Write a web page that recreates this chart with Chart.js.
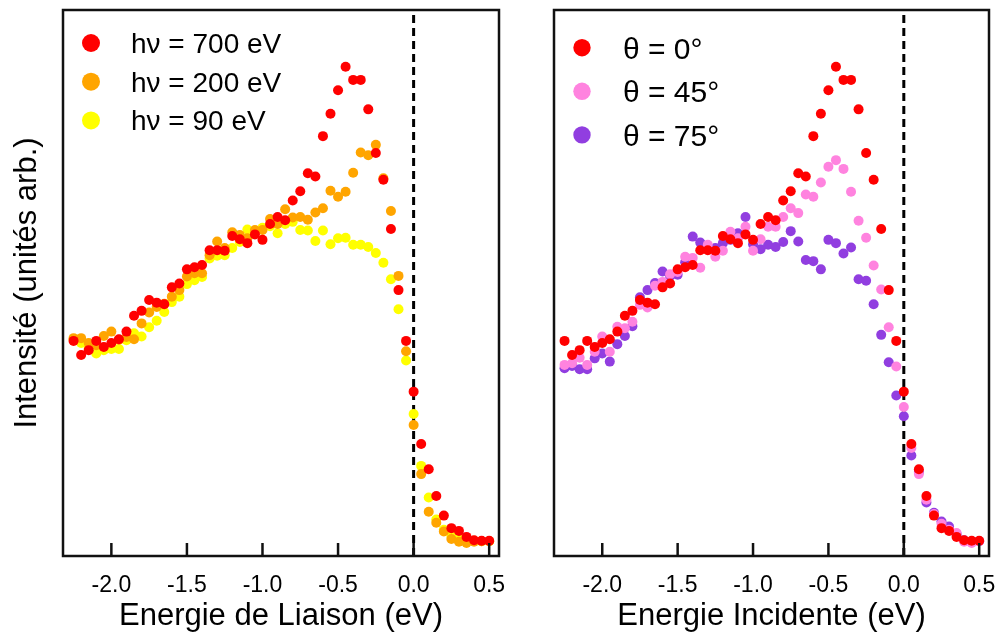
<!DOCTYPE html>
<html>
<head>
<meta charset="utf-8">
<script src="https://cdn.jsdelivr.net/npm/chart.js@4"></script>
<style>
  body { margin: 0; width: 997px; height: 639px; background: #fff; position: relative; overflow: hidden; }
  canvas { position: absolute; top: 0; }
  #gauche { left: 0; }
  #droite { left: 520px; }
</style>
</head>
<body>
<canvas id="gauche" width="520" height="639"></canvas>
<canvas id="droite" width="477" height="639"></canvas>
<script>
// energie (eV), same grid for every series
const energies = [
  -2.25, -2.20, -2.15, -2.10, -2.05, -2.00, -1.95, -1.90, -1.85, -1.80,
  -1.75, -1.70, -1.65, -1.60, -1.55, -1.50, -1.45, -1.40, -1.35, -1.30,
  -1.25, -1.20, -1.15, -1.10, -1.05, -1.00, -0.95, -0.90, -0.85, -0.80,
  -0.75, -0.70, -0.65, -0.60, -0.55, -0.50, -0.45, -0.40, -0.35, -0.30,
  -0.25, -0.20, -0.15, -0.10, -0.05, 0.00, 0.05, 0.10, 0.15, 0.20,
  0.25, 0.30, 0.35, 0.40, 0.45, 0.50
];

// intensities (arb. units, 0 = bottom of frame, 100 = top)
const hv700 = [
  39.4, 36.8, 37.7, 39.4, 38.3, 39.0, 39.7, 41.1, 44.0, 44.9,
  46.9, 46.4, 46.1, 49.2, 49.9, 52.5, 52.9, 53.3, 56.0, 56.0,
  55.9, 58.6, 58.0, 57.3, 58.9, 57.9, 60.8, 62.1, 61.5, 65.1,
  66.8, 70.1, 69.5, 76.9, 81.0, 85.3, 89.6, 87.2, 87.2, 81.8,
  73.8, 68.9, 59.9, 48.7, 39.4, 30.1, 20.5, 15.9, 11.0, 7.4,
  5.1, 4.6, 3.5, 2.9, 2.8, 2.8
];
const hv200 = [
  39.9, 39.9, 39.0, 38.6, 40.3, 41.1, 39.6, 40.1, 39.7, 42.6,
  44.6, 45.6, 46.2, 47.5, 48.7, 51.2, 51.8, 51.8, 55.1, 57.6,
  56.4, 59.3, 58.8, 58.2, 59.7, 59.7, 61.7, 60.8, 63.5, 62.0,
  62.1, 61.6, 62.9, 63.7, 66.9, 65.8, 66.7, 70.2, 73.9, 73.4,
  75.3, 69.2, 63.2, 51.3, 37.5, 24.0, 15.0, 8.1, 6.1, 4.5,
  3.1, 2.6, 2.4, 2.6, 2.7, 2.7
];
const hv90 = [
  39.6, 39.0, 38.1, 37.1, 37.7, 37.9, 37.9, 39.5, 40.8, 40.2,
  41.9, 43.1, 44.7, 46.5, 47.5, 49.8, 50.5, 51.1, 54.5, 55.0,
  55.1, 56.4, 57.5, 59.8, 59.3, 60.1, 60.4, 59.1, 60.8, 61.2,
  59.7, 59.6, 57.7, 59.6, 57.1, 58.2, 58.3, 57.0, 57.0, 56.6,
  55.5, 53.7, 50.7, 45.2, 35.8, 26.0, 16.5, 10.7, 6.7, 4.8,
  3.7, 3.1, 2.7, 2.8, 2.7, 2.7
];
const theta0 = hv700;
const theta45 = [
  35.0, 35.3, 36.3, 35.0, 37.4, 40.2, 37.4, 42.0, 41.7, 42.9,
  46.0, 45.5, 49.5, 50.2, 51.6, 52.0, 54.8, 54.6, 52.8, 57.0,
  54.8, 55.9, 59.4, 58.2, 60.3, 55.9, 58.0, 60.3, 60.3, 62.1,
  63.7, 62.8, 66.2, 65.8, 68.4, 71.3, 72.5, 70.9, 66.7, 61.4,
  58.3, 53.2, 48.8, 41.9, 34.7, 27.3, 19.8, 15.0, 10.3, 7.7,
  5.9, 4.8, 4.2, 2.6, 2.4, 2.7
];
const theta75 = [
  34.4, 34.8, 34.2, 34.2, 36.2, 37.1, 35.6, 38.8, 40.3, 42.1,
  47.4, 48.7, 50.0, 52.1, 51.3, 51.5, 53.8, 58.5, 57.4, 56.4,
  56.4, 57.3, 57.9, 59.1, 62.1, 57.1, 56.2, 57.0, 56.6, 57.5,
  59.5, 57.6, 54.2, 54.0, 52.5, 57.9, 57.3, 55.4, 56.5, 50.7,
  50.4, 46.1, 40.5, 35.5, 29.4, 25.6, 18.4, 15.4, 9.8, 7.9,
  6.3, 5.4, 4.0, 2.9, 2.6, 2.7
];

const xTicks = [-2.0, -1.5, -1.0, -0.5, 0.0, 0.5];
const niveauFermi = 0;

const ROUGE = "#ff0000";
const ORANGE = "#ffa500";
const JAUNE = "#ffff00";
const ROSE = "#ff83df";
const VIOLET = "#913ee0";
const POLICE = "'Liberation Sans', Arial, sans-serif";

function points(values) {
  let pts = [];
  for (let i = 0; i < energies.length; i++) {
    pts.push({ x: energies[i], y: values[i] });
  }
  return pts;
}

function serie(label, values, color) {
  return {
    type: "scatter", label: label, data: points(values),
    backgroundColor: color, borderWidth: 0, pointRadius: 5
  };
}

function ligneFermi() {
  return {
    type: "line", label: "", data: [{ x: niveauFermi, y: 0 }, { x: niveauFermi, y: 100 }],
    borderColor: "#000", borderWidth: 3, borderDash: [8, 5], pointRadius: 0, fill: false
  };
}

// frame, inward ticks and the legend inside the plot
const cadre = {
  id: "cadre",
  afterDraw: function (chart) {
    let ctx = chart.ctx;
    let a = chart.chartArea;
    let leg = chart.options.plugins.cadre;
    ctx.save();
    ctx.strokeStyle = "#111";
    ctx.lineWidth = 2.5;
    ctx.strokeRect(a.left, a.top, a.right - a.left, a.bottom - a.top);
    let xs = chart.scales.x;
    for (let i = 0; i < xTicks.length; i++) {
      let px = xs.getPixelForValue(xTicks[i]);
      ctx.beginPath();
      ctx.moveTo(px, a.bottom);
      ctx.lineTo(px, a.bottom - 13);
      ctx.stroke();
    }
    let k = 0;
    ctx.font = leg.size + "px " + POLICE;
    ctx.textBaseline = "alphabetic";
    chart.data.datasets.forEach(function (ds) {
      if (!ds.label) return;
      let cy = a.top + leg.y0 + k * leg.step;
      ctx.beginPath();
      ctx.fillStyle = ds.backgroundColor;
      ctx.arc(a.left + leg.dotX, cy, leg.r, 0, Math.PI * 2);
      ctx.fill();
      ctx.fillStyle = "#000";
      ctx.fillText(ds.label, a.left + leg.textX, cy + leg.size * 0.36);
      k++;
    });
    ctx.restore();
  }
};

function options(xTitle, yTitle, yWidth, padRight, leg) {
  return {
    responsive: false,
    animation: false,
    events: [],
    layout: { padding: { top: 10, right: padRight, left: 0, bottom: 0 } },
    plugins: { legend: { display: false }, tooltip: { enabled: false }, cadre: leg },
    scales: {
      x: {
        type: "linear", min: -2.32, max: 0.565,
        grid: { display: false }, border: { display: false },
        afterBuildTicks: function (s) { s.ticks = xTicks.map(function (v) { return { value: v }; }); },
        afterFit: function (s) { s.height = 83; s.paddingLeft = 0; s.paddingRight = 0; },
        ticks: {
          color: "#000", padding: 8, font: { family: POLICE, size: 23 },
          callback: function (v) { return Number(v).toFixed(1); }
        },
        title: { display: true, text: xTitle, color: "#000", padding: 4, font: { family: POLICE, size: 31 } }
      },
      y: {
        min: 0, max: 100,
        grid: { display: false }, border: { display: false },
        ticks: { display: false },
        afterFit: function (s) { s.width = yWidth; },
        title: { display: !!yTitle, text: yTitle, color: "#000", padding: 9, font: { family: POLICE, size: 31 } }
      }
    }
  };
}

new Chart(document.getElementById("gauche"), {
  type: "scatter",
  data: {
    datasets: [
      serie("h\u03bd = 700 eV", hv700, ROUGE),
      serie("h\u03bd = 200 eV", hv200, ORANGE),
      serie("h\u03bd = 90 eV", hv90, JAUNE),
      ligneFermi()
    ]
  },
  options: options("Energie de Liaison (eV)", "Intensit\u00e9 (unit\u00e9s arb.)", 63, 21,
    { dotX: 28, textX: 68, y0: 33, step: 38.7, r: 9, size: 28 }),
  plugins: [cadre]
});

new Chart(document.getElementById("droite"), {
  type: "scatter",
  data: {
    datasets: [
      serie("\u03b8 = 0\u00b0", theta0, ROUGE),
      serie("\u03b8 = 45\u00b0", theta45, ROSE),
      serie("\u03b8 = 75\u00b0", theta75, VIOLET),
      ligneFermi()
    ]
  },
  options: options("Energie Incidente (eV)", "", 34, 8,
    { dotX: 28, textX: 69, y0: 37.7, step: 43.6, r: 8.7, size: 30 }),
  plugins: [cadre]
});
</script>
</body>
</html>
